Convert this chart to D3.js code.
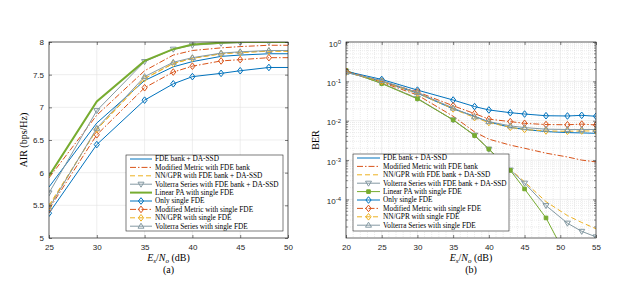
<!DOCTYPE html>
<html>
<head>
<meta charset="utf-8">
<script src="https://cdn.jsdelivr.net/npm/d3@7"></script>
<style>
    body { margin: 0; background: #fff; }
    svg { display: block; }
    .tick text { font-family: "Liberation Sans", Arial, sans-serif; font-size: 8px; fill: #262626; }
    .leg text { font-family: "Liberation Serif", serif; font-size: 7.3px; fill: #000; }
    .lbl { font-family: "Liberation Serif", serif; font-size: 10px; fill: #000; }
</style>
</head>
<body>
<svg id="chart" width="625" height="282"></svg>
<script>
// legend entries (same order in both panels)
const seriesNames = [
    "FDE bank + DA-SSD",
    "Modified Metric with FDE bank",
    "NN/GPR with FDE bank + DA-SSD",
    "Volterra Series with FDE bank + DA-SSD",
    "Linear PA with single FDE",
    "Only single FDE",
    "Modified Metric with single FDE",
    "NN/GPR with single FDE",
    "Volterra Series with single FDE"
];

// (a) AIR vs Es/No
const airX = [25, 30, 35, 38, 40, 43, 45, 48, 50];
const airFdeBank    = [5.78, 6.76, 7.41, 7.62, 7.70, 7.78, 7.80, 7.82, 7.82];
const airModFdeBank = [5.92, 6.88, 7.56, 7.80, 7.87, 7.91, 7.93, 7.95, 7.95];
const airNnFdeBank  = [5.50, 6.66, 7.44, 7.67, 7.75, 7.82, 7.84, 7.86, 7.86];
const airVolFdeBank = [5.69, 6.95, 7.70, 7.89, 7.95, 7.98, 7.99, 8.00, 8.00];
const airLinear     = [5.95, 7.09, 7.71, 7.89, 7.96, 7.99, 8.00, 8.00, 8.00];
const airSingle     = [5.38, 6.43, 7.11, 7.36, 7.47, 7.52, 7.56, 7.61, 7.61];
const airModSingle  = [5.44, 6.58, 7.30, 7.54, 7.63, 7.71, 7.73, 7.76, 7.76];
const airNnSingle   = [5.48, 6.66, 7.44, 7.67, 7.75, 7.82, 7.84, 7.86, 7.86];
const airVolSingle  = [5.46, 6.68, 7.47, 7.69, 7.76, 7.83, 7.85, 7.87, 7.87];
const airMarkX = [25, 30, 35, 38, 40, 43, 45, 48];
const airXTicks = [25, 30, 35, 40, 45, 50];
const airYTicks = [5, 5.5, 6, 6.5, 7, 7.5, 8];

// (b) BER vs Es/No
const berX = [20, 25, 30, 35, 38, 40, 43, 45, 48, 51, 53, 55];
const berFdeBank    = [0.17, 0.10, 0.050, 0.020, 0.013, 0.0093, 0.0068, 0.0060, 0.0053, 0.0050, 0.0049, 0.0048];
const berModFdeBank = [0.18, 0.095, 0.045, 0.013, 0.0052, 0.0034, 0.0024, 0.0020, 0.0015, 0.0012, 0.0010, 0.0009];
const berNnFdeBank  = [0.18, 0.09, 0.037, 0.0105, 0.0043, 0.0019, 0.00058, 0.00028, 0.000088, 0.000039, 0.000026, 0.000018];
const berVolFdeBank = [0.18, 0.09, 0.037, 0.0105, 0.0043, 0.0019, 0.00056, 0.00026, 0.00007, 0.000025, 0.0000155, 0.0000112];
const berLinearX    = [20, 25, 30, 35, 38, 40, 43, 45, 48, 50];
const berLinear     = [0.19, 0.088, 0.036, 0.0105, 0.0042, 0.0019, 0.00055, 0.000185, 0.000034, 0.000007];
const berSingle     = [0.18, 0.112, 0.060, 0.0336, 0.0229, 0.0188, 0.016, 0.0148, 0.0134, 0.0132, 0.0137, 0.013];
const berModSingle  = [0.18, 0.10, 0.054, 0.024, 0.0152, 0.011, 0.0095, 0.0086, 0.0080, 0.0079, 0.0082, 0.0078];
const berNnSingle   = [0.17, 0.10, 0.050, 0.020, 0.012, 0.009, 0.0068, 0.0060, 0.0055, 0.0054, 0.0055, 0.0055];
const berVolSingle  = [0.17, 0.105, 0.052, 0.021, 0.0125, 0.0095, 0.0074, 0.0067, 0.0061, 0.0060, 0.0060, 0.0060];
const berXTicks = [20, 25, 30, 35, 40, 45, 50, 55];
const berYTicks = [1, 0.1, 0.01, 0.001, 0.0001];

const blue = "#0072BD", orange = "#D95319", yellow = "#EDB120", green = "#77AC30", gray = "#8499a2";
const dashDot = "6,2,1.5,2", dashed = "5,3";
const ink = "#262626";

const svg = d3.select("#chart");

// MATLAB-ish marker shapes, centred on 0,0
function markerPath(type) {
    if (type === "diamond") return "M0,-3.3L2.6,0L0,3.3L-2.6,0Z";
    if (type === "triDown") return "M-3,-2L3,-2L0,3Z";
    if (type === "triUp") return "M-3,2L3,2L0,-3Z";
    if (type === "square") return "M-1.8,-1.8H1.8V1.8H-1.8Z";
    return null;
}

function drawPanel(cfg) {
    const g = svg.append("g");
    const xScale = d3.scaleLinear().domain(cfg.xDomain).range([cfg.left, cfg.right]);
    const yScale = (cfg.log ? d3.scaleLog() : d3.scaleLinear()).domain(cfg.yDomain).range([cfg.bottom, cfg.top]);

    // grid
    const grid = g.append("g");
    if (cfg.xMinor) {
        grid.selectAll(".xm").data(cfg.xMinor).enter().append("line")
            .attr("x1", d => xScale(d)).attr("x2", d => xScale(d))
            .attr("y1", cfg.top).attr("y2", cfg.bottom)
            .attr("stroke", "#d6d6d6").attr("stroke-width", 0.5).attr("stroke-dasharray", "1,1");
    }
    if (cfg.yMinor) {
        grid.selectAll(".ym").data(cfg.yMinor).enter().append("line")
            .attr("x1", cfg.left).attr("x2", cfg.right)
            .attr("y1", d => yScale(d)).attr("y2", d => yScale(d))
            .attr("stroke", "#d6d6d6").attr("stroke-width", 0.5).attr("stroke-dasharray", "1,1");
    }
    grid.selectAll(".xg").data(cfg.xTicks).enter().append("line")
        .attr("x1", d => xScale(d)).attr("x2", d => xScale(d))
        .attr("y1", cfg.top).attr("y2", cfg.bottom)
        .attr("stroke", "#e2e2e2").attr("stroke-width", 0.6);
    grid.selectAll(".yg").data(cfg.yTicks).enter().append("line")
        .attr("x1", cfg.left).attr("x2", cfg.right)
        .attr("y1", d => yScale(d)).attr("y2", d => yScale(d))
        .attr("stroke", "#e2e2e2").attr("stroke-width", 0.6);

    // data
    const clipId = "clip" + cfg.id;
    g.append("clipPath").attr("id", clipId).append("rect")
        .attr("x", cfg.left).attr("y", cfg.top)
        .attr("width", cfg.right - cfg.left).attr("height", cfg.bottom - cfg.top);
    const plot = g.append("g").attr("clip-path", "url(#" + clipId + ")");

    cfg.series.forEach(s => {
        const pts = s.x.map((x, i) => ({x: x, y: s.y[i]}));
        plot.append("path")
            .datum(pts)
            .attr("fill", "none")
            .attr("stroke", s.color)
            .attr("stroke-width", s.width || 1)
            .attr("stroke-dasharray", s.dash || null)
            .attr("d", d3.line().x(d => xScale(d.x)).y(d => yScale(d.y)));
        if (s.marker) {
            const marked = pts.filter(d => !s.markX || s.markX.includes(d.x));
            plot.selectAll(null).data(marked).enter().append("path")
                .attr("d", markerPath(s.marker))
                .attr("transform", d => "translate(" + xScale(d.x) + "," + yScale(d.y) + ")")
                .attr("fill", s.marker === "square" ? s.color : "none")
                .attr("stroke", s.color)
                .attr("stroke-width", 1);
        }
    });

    // axes box + inward ticks on all four sides
    const xAxis = d3.axisBottom(xScale).tickValues(cfg.xTicks).tickSizeInner(-3).tickSizeOuter(0).tickPadding(6);
    const ax = g.append("g").attr("transform", "translate(0," + cfg.bottom + ")").call(xAxis);
    const yAxis = d3.axisLeft(yScale).tickValues(cfg.yTicks).tickSizeInner(-3).tickSizeOuter(0).tickPadding(5)
        .tickFormat(cfg.log ? () => "" : d3.format("~g"));
    const ay = g.append("g").attr("transform", "translate(" + cfg.left + ",0)").call(yAxis);
    const axTop = g.append("g").attr("transform", "translate(0," + cfg.top + ")")
        .call(d3.axisTop(xScale).tickValues(cfg.xTicks).tickSizeInner(-3).tickSizeOuter(0).tickFormat(""));
    const ayRight = g.append("g").attr("transform", "translate(" + cfg.right + ",0)")
        .call(d3.axisRight(yScale).tickValues(cfg.yTicks).tickSizeInner(-3).tickSizeOuter(0).tickFormat(""));
    [ax, ay, axTop, ayRight].forEach(a => {
        a.select(".domain").remove();
        a.selectAll(".tick line").attr("stroke", ink).attr("stroke-width", 0.6);
    });
    if (cfg.log) {
        ay.selectAll(".tick text")
            .attr("dy", "0.5em")
            .each(function(d) {
                const t = d3.select(this);
                t.append("tspan").text("10");
                t.append("tspan").attr("dy", "-0.45em").attr("font-size", "6px").text(Math.round(Math.log10(d)));
            });
        const minorTicks = g.append("g");
        [[cfg.left, 2], [cfg.right, -2]].forEach(side => {
            minorTicks.selectAll(null).data(cfg.yMinor).enter().append("line")
                .attr("x1", side[0]).attr("x2", side[0] + side[1])
                .attr("y1", d => yScale(d)).attr("y2", d => yScale(d))
                .attr("stroke", ink).attr("stroke-width", 0.5);
        });
    }
    g.append("rect")
        .attr("x", cfg.left).attr("y", cfg.top)
        .attr("width", cfg.right - cfg.left).attr("height", cfg.bottom - cfg.top)
        .attr("fill", "none").attr("stroke", ink).attr("stroke-width", 0.7);

    // axis labels
    const midX = (cfg.left + cfg.right) / 2;
    const xl = g.append("text").attr("class", "lbl").attr("x", midX).attr("y", 261).attr("text-anchor", "middle");
    xl.append("tspan").attr("font-style", "italic").text("E");
    xl.append("tspan").attr("font-style", "italic").attr("font-size", "7px").attr("dy", "2").text("s");
    xl.append("tspan").attr("dy", "-2").text("/");
    xl.append("tspan").attr("font-style", "italic").text("N");
    xl.append("tspan").attr("font-style", "italic").attr("font-size", "7px").attr("dy", "2").text("o");
    xl.append("tspan").attr("dy", "-2").text(" (dB)");
    g.append("text").attr("class", "lbl").attr("x", midX).attr("y", 273)
        .attr("text-anchor", "middle").text(cfg.letter);
    g.append("text").attr("class", "lbl")
        .attr("transform", "translate(" + cfg.yLabelX + "," + ((cfg.top + cfg.bottom) / 2) + ") rotate(-90)")
        .attr("text-anchor", "middle").text(cfg.yLabel);

    // legend
    const L = cfg.legend;
    const leg = g.append("g").attr("class", "leg");
    leg.append("rect").attr("x", L.x).attr("y", L.y).attr("width", L.w).attr("height", L.h)
        .attr("fill", "#fff").attr("stroke", ink).attr("stroke-width", 0.6);
    cfg.series.forEach((s, i) => {
        const cy = L.y + 4 + i * 8.4;
        leg.append("line")
            .attr("x1", L.x + 4).attr("x2", L.x + 4 + L.sample)
            .attr("y1", cy).attr("y2", cy)
            .attr("stroke", s.color).attr("stroke-width", s.width || 1)
            .attr("stroke-dasharray", s.dash || null);
        if (s.marker) {
            leg.append("path").attr("d", markerPath(s.marker))
                .attr("transform", "translate(" + (L.x + 4 + L.sample / 2) + "," + cy + ")")
                .attr("fill", s.marker === "square" ? s.color : "none")
                .attr("stroke", s.color);
        }
        leg.append("text").attr("x", L.x + 7 + L.sample).attr("y", cy).attr("dy", "0.33em").text(seriesNames[i]);
    });
}

drawPanel({
    id: "a", left: 49, right: 288, top: 42, bottom: 238,
    xDomain: [25, 50], yDomain: [5, 8], log: false,
    xTicks: airXTicks, yTicks: airYTicks,
    yLabel: "AIR (bps/Hz)", yLabelX: 27, letter: "(a)",
    legend: {x: 126, y: 155, w: 157, h: 76, sample: 22},
    series: [
        {x: airX, y: airFdeBank, color: blue},
        {x: airX, y: airModFdeBank, color: orange, dash: dashDot},
        {x: airX, y: airNnFdeBank, color: yellow, dash: dashed},
        {x: airX, y: airVolFdeBank, color: gray, marker: "triDown", markX: airMarkX},
        {x: airX, y: airLinear, color: green, width: 2},
        {x: airX, y: airSingle, color: blue, marker: "diamond", markX: airMarkX},
        {x: airX, y: airModSingle, color: orange, dash: dashDot, marker: "diamond", markX: airMarkX},
        {x: airX, y: airNnSingle, color: yellow, dash: dashed, marker: "diamond", markX: airMarkX},
        {x: airX, y: airVolSingle, color: gray, marker: "triUp", markX: airMarkX}
    ]
});

const berMinorY = [];
[-5, -4, -3, -2, -1].forEach(k => { for (let m = 2; m <= 9; m++) berMinorY.push(m * Math.pow(10, k)); });
const berMinorX = d3.range(20, 56, 1).filter(v => v % 5 !== 0);

drawPanel({
    id: "b", left: 346, right: 596, top: 42, bottom: 238,
    xDomain: [20, 55], yDomain: [1.05e-5, 1], log: true,
    xTicks: berXTicks, yTicks: berYTicks,
    yMinor: berMinorY.filter(v => v > 1.05e-5), xMinor: berMinorX,
    yLabel: "BER", yLabelX: 319, letter: "(b)",
    legend: {x: 353, y: 154, w: 156, h: 77, sample: 23},
    series: [
        {x: berX, y: berFdeBank, color: blue},
        {x: berX, y: berModFdeBank, color: orange, dash: dashDot},
        {x: berX, y: berNnFdeBank, color: yellow, dash: dashed},
        {x: berX, y: berVolFdeBank, color: gray, marker: "triDown"},
        {x: berLinearX, y: berLinear, color: green, marker: "square"},
        {x: berX, y: berSingle, color: blue, marker: "diamond"},
        {x: berX, y: berModSingle, color: orange, dash: dashDot, marker: "diamond"},
        {x: berX, y: berNnSingle, color: yellow, dash: dashed, marker: "diamond"},
        {x: berX, y: berVolSingle, color: gray, marker: "triUp"}
    ]
});
</script>
</body>
</html>
